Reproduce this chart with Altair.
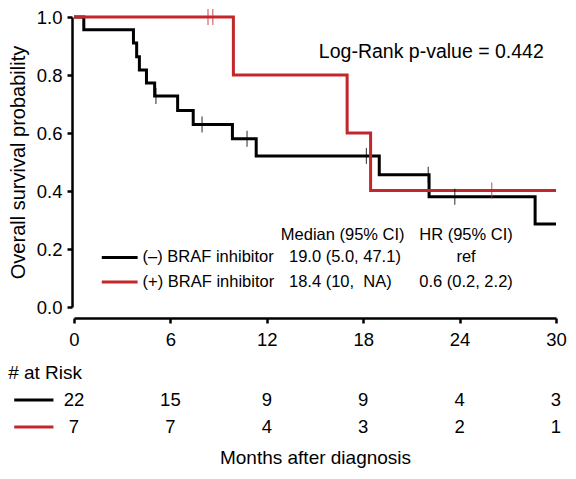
import altair as alt
import pandas as pd

FONT = "Liberation Sans"

# ---- data ----
groups = ["(–) BRAF inhibitor", "(+) BRAF inhibitor"]
colors = ["#000000", "#C1272D"]
cens_colors = ["#8a8a8a", "#e08585"]

# Kaplan-Meier step points (time in months, survival)
neg_t = [0, 0.61, 3.70, 3.90, 4.07, 4.51, 5.02, 6.45, 7.42, 9.86, 11.34, 19.0, 22.1, 28.7, 30]
neg_s = [1.0, 0.956, 0.91, 0.863, 0.817, 0.772, 0.728, 0.678, 0.629, 0.58, 0.521, 0.456, 0.38, 0.286, 0.286]
pos_t = [0, 9.92, 17.0, 18.46, 30]
pos_s = [1.0, 0.8, 0.6, 0.402, 0.402]

# censoring marks
neg_cens_t = [5.1, 7.97, 10.77, 18.2, 22.05, 23.7]
neg_cens_s = [0.728, 0.629, 0.58, 0.521, 0.456, 0.38]
pos_cens_t = [8.34, 8.64, 26.0]
pos_cens_s = [1.0, 1.0, 0.402]

# numbers at risk
risk_times = [0, 6, 12, 18, 24, 30]
risk_neg = [22, 15, 9, 9, 4, 3]
risk_pos = [7, 7, 4, 3, 2, 1]

medians = ["19.0 (5.0, 47.1)", "18.4 (10,\u00a0 NA)"]
hrs = ["ref", "0.6 (0.2, 2.2)"]
pvalue_text = "Log-Rank p-value = 0.442"
y_ticks = [0.0, 0.2, 0.4, 0.6, 0.8, 1.0]

# ---- tables ----
km_df = pd.DataFrame({
    "t": neg_t + pos_t,
    "s": neg_s + pos_s,
    "group": [groups[0]] * len(neg_t) + [groups[1]] * len(pos_t),
})
cens_df = pd.DataFrame({
    "t": neg_cens_t + pos_cens_t,
    "s": neg_cens_s + pos_cens_s,
    "group": [groups[0]] * len(neg_cens_t) + [groups[1]] * len(pos_cens_t),
})
leg_df = pd.DataFrame({"group": groups, "median": medians, "hr": hrs})
risk_df = pd.DataFrame({
    "t": risk_times * 2,
    "n": risk_neg + risk_pos,
    "group": [groups[0]] * len(risk_times) + [groups[1]] * len(risk_times),
})

xs = alt.Scale(domain=[0, 30], nice=False, zero=False)
ys = alt.Scale(domain=[0, 1], nice=False, zero=False)
col = alt.Color("group:N", scale=alt.Scale(domain=groups, range=colors), legend=None)

x_axis = alt.Axis(
    values=risk_times, title="Months after diagnosis", offset=11,
    domainWidth=2.5, domainColor="black", tickWidth=2.5, tickColor="black",
    tickSize=5, labelFontSize=18.5, labelColor="black", labelPadding=7,
    labelFont=FONT, labelFlush=False, titleFont=FONT, titleFontSize=19,
    titleFontWeight="normal", titleColor="black", titlePadding=100, grid=False,
)
y_axis = alt.Axis(
    values=y_ticks, format=".1f", title="Overall survival probability", offset=2,
    domainWidth=2.5, domainColor="black", tickWidth=2.5, tickColor="black",
    tickSize=5, labelFontSize=18.5, labelColor="black", labelPadding=5,
    labelFont=FONT, titleFont=FONT, titleFontSize=20, titleFontWeight="normal",
    titleColor="black", titlePadding=8, grid=False,
)

X = alt.X("t:Q", scale=xs, axis=x_axis)
Y = alt.Y("s:Q", scale=ys, axis=y_axis)


def xd(v):
    return alt.XDatum(v, scale=xs, axis=x_axis)


def yd(v):
    return alt.YDatum(v, scale=ys, axis=y_axis)


def txt(size, align="left"):
    return dict(align=align, baseline="middle", fontSize=size, font=FONT, color="black")


line_neg = alt.Chart(km_df).transform_filter(alt.datum.group == groups[0]).mark_line(
    interpolate="step-after", strokeWidth=3
).encode(x=X, y=Y, color=col)

line_pos = alt.Chart(km_df).transform_filter(alt.datum.group == groups[1]).mark_line(
    interpolate="step-after", strokeWidth=3
).encode(x=X, y=Y, color=col)

cens = alt.Chart(cens_df).mark_tick(orient="vertical", size=16, thickness=1.2).encode(
    x=X, y=Y,
    color=alt.Color("group:N", scale=alt.Scale(domain=groups, range=cens_colors), legend=None),
)

pval = alt.Chart(pd.DataFrame({"label": [pvalue_text]})).mark_text(**txt(19.5)).encode(
    x=xd(15.24), y=yd(0.879), text="label:N")

hdr_med = alt.Chart(pd.DataFrame({"label": ["Median (95% CI)"]})).mark_text(**txt(16.5)).encode(
    x=xd(12.87), y=yd(0.25), text="label:N")
hdr_hr = alt.Chart(pd.DataFrame({"label": ["HR (95% CI)"]})).mark_text(**txt(16.5, "center")).encode(
    x=xd(24.4), y=yd(0.25), text="label:N")

legend_layers = []
for g, yv in zip(groups, [0.171, 0.086]):
    d = leg_df[leg_df["group"] == g]
    legend_layers.append(alt.Chart(d).mark_rule(strokeWidth=3).encode(
        x=xd(1.73), x2=alt.X2Datum(3.96), y=yd(yv), color=col))
    legend_layers.append(alt.Chart(d).mark_text(**txt(16.5)).encode(
        x=xd(4.27), y=yd(yv), text="group:N"))
    legend_layers.append(alt.Chart(d).mark_text(**txt(16.5)).encode(
        x=xd(13.38), y=yd(yv), text="median:N"))
    legend_layers.append(alt.Chart(d).mark_text(**txt(16.5, "center")).encode(
        x=xd(24.4), y=yd(yv), text="hr:N"))

# numbers-at-risk table below the axis
risk_layers = [
    alt.Chart(pd.DataFrame({"label": ["# at Risk"]})).mark_text(**txt(19)).encode(
        x=xd(-4.1), y=yd(-0.2276), text="label:N")
]
for g, yv in zip(groups, [-0.3207, -0.4138]):
    risk_layers.append(alt.Chart(risk_df[risk_df["group"] == g]).mark_text(**txt(18.5, "center")).encode(
        x=X, y=yd(yv), text="n:Q"))
    risk_layers.append(alt.Chart(leg_df[leg_df["group"] == g]).mark_rule(strokeWidth=3).encode(
        x=xd(-3.72), x2=alt.X2Datum(-1.28), y=yd(yv), color=col))

chart = alt.layer(
    line_neg, line_pos, cens, pval, hdr_med, hdr_hr, *legend_layers, *risk_layers
).properties(
    width=482, height=290,
    autosize=alt.AutoSizeParams(type="none"),
    padding={"left": 66, "top": 9, "right": 12, "bottom": 164},
).configure(font=FONT).configure_view(stroke=None)

chart.save("out.html", embed_options={"renderer": "svg", "actions": False})
